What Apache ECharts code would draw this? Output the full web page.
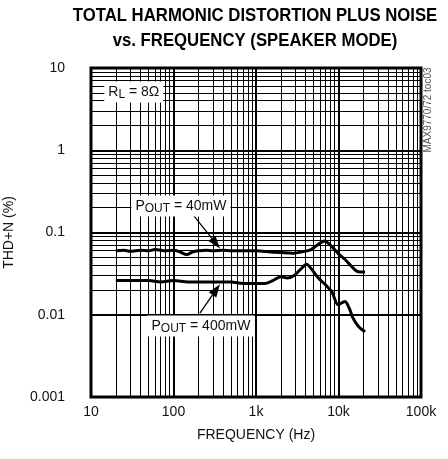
<!DOCTYPE html>
<html><head><meta charset="utf-8">
<script src="https://cdn.jsdelivr.net/npm/echarts/dist/echarts.min.js"></script>
<style>html,body{margin:0;padding:0;background:#fff}#c{width:448px;height:459px}</style>
</head><body><div id="c"></div>
<script>
// ---- data ----
const freq40 = [20, 25, 30, 40, 50, 60, 80, 100, 120, 145, 170, 200, 250, 300, 400, 500, 700, 1000, 1500, 2000, 2800, 3500, 4500, 5500, 6800, 8000, 10000, 12000, 14000, 16500, 18500, 21000];
const thd40  = [0.060, 0.061, 0.059, 0.061, 0.060, 0.062, 0.060, 0.061, 0.058, 0.054, 0.058, 0.060, 0.061, 0.060, 0.061, 0.060, 0.060, 0.060, 0.058, 0.057, 0.056, 0.058, 0.061, 0.070, 0.079, 0.070, 0.055, 0.047, 0.040, 0.034, 0.033, 0.033];
const freq400 = [20, 30, 50, 70, 100, 150, 200, 300, 500, 700, 1000, 1300, 1600, 2000, 2400, 2900, 3500, 4100, 4600, 5700, 7000, 8300, 9900, 11000, 12000, 13500, 15000, 17500, 21000];
const thd400  = [0.026, 0.026, 0.026, 0.025, 0.026, 0.025, 0.025, 0.025, 0.025, 0.024, 0.024, 0.024, 0.026, 0.029, 0.028, 0.030, 0.036, 0.041, 0.037, 0.028, 0.023, 0.019, 0.0132, 0.0140, 0.0145, 0.012, 0.0091, 0.0072, 0.0062];
const xTicks = [10, 100, 1000, 10000, 100000];
const xTickLabels = ['10', '100', '1k', '10k', '100k'];
const yTicks = [0.001, 0.01, 0.1, 1, 10];
const yTickLabels = ['0.001', '0.01', '0.1', '1', '10'];
const seriesNames = ['POUT = 40mW', 'POUT = 400mW'];

// ---- chart ----
const FONT = '"Liberation Sans", Arial, sans-serif';
const chart = echarts.init(document.getElementById('c'), null, {renderer: 'canvas'});

function minors(ticks) {
  const out = [];
  for (let i = 0; i < ticks.length - 1; i++) {
    for (let m = 2; m <= 9; m++) out.push(+(ticks[i] * m).toPrecision(6));
  }
  return out;
}
function labelFor(ticks, labels) {
  return function (v) {
    for (let i = 0; i < ticks.length; i++) {
      if (Math.abs(Math.log10(v) - Math.log10(ticks[i])) < 1e-6) return labels[i];
    }
    return '';
  };
}
const gridMarks = minors(xTicks).map(v => ({xAxis: v})).concat(minors(yTicks).map(v => ({yAxis: v})));

chart.setOption({
  animation: false,
  backgroundColor: '#fff',
  grid: {left: 91, right: 27, top: 68, bottom: 62, show: true, borderColor: '#000', borderWidth: 3,
    containLabel: false, outerBoundsMode: 'none'},
  xAxis: {
    type: 'log', logBase: 10, min: 10, max: 100000,
    name: 'FREQUENCY (Hz)', nameLocation: 'middle', nameGap: 31,
    nameTextStyle: {fontFamily: FONT, fontSize: 14, color: '#111'},
    axisLine: {show: false}, axisTick: {show: false},
    axisLabel: {margin: 8, fontFamily: FONT, fontSize: 14, color: '#111', formatter: labelFor(xTicks, xTickLabels)},
    splitLine: {show: true, lineStyle: {color: '#000', width: 2}}
  },
  yAxis: {
    type: 'log', logBase: 10, min: 0.001, max: 10,
    name: 'THD+N (%)', nameLocation: 'middle', nameGap: 75,
    nameTextStyle: {fontFamily: FONT, fontSize: 14, color: '#111'},
    axisLine: {show: false}, axisTick: {show: false},
    axisLabel: {margin: 26, fontFamily: FONT, fontSize: 14, color: '#111', formatter: labelFor(yTicks, yTickLabels)},
    splitLine: {show: true, lineStyle: {color: '#000', width: 2}}
  },
  series: [
    {
      name: seriesNames[0], type: 'line', showSymbol: false, smooth: 0.3,
      data: freq40.map((f, i) => [f, thd40[i]]),
      lineStyle: {color: '#000', width: 3}, z: 5,
      markLine: {silent: true, symbol: ['none', 'none'], label: {show: false},
        lineStyle: {color: '#000', width: 1, type: 'solid'}, data: gridMarks, z: 1}
    },
    {
      name: seriesNames[1], type: 'line', showSymbol: false, smooth: 0.3,
      data: freq400.map((f, i) => [f, thd400[i]]),
      lineStyle: {color: '#000', width: 3}, z: 5
    }
  ]
});

// ---- annotations anchored in data space ----
const px = p => chart.convertToPixel({gridIndex: 0}, p);
function arrow(from, to) {
  const a = px(from), b = px(to);
  const dx = b[0] - a[0], dy = b[1] - a[1], L = Math.hypot(dx, dy);
  const ux = dx / L, uy = dy / L, hl = 13, hw = 4.5;
  const bx = b[0] - ux * hl, by = b[1] - uy * hl;
  return [
    {type: 'line', shape: {x1: a[0], y1: a[1], x2: bx, y2: by}, style: {stroke: '#000', lineWidth: 1.3}, z: 20},
    {type: 'polygon', shape: {points: [[b[0], b[1]], [bx - uy * hw, by + ux * hw], [bx + uy * hw, by - ux * hw]]}, style: {fill: '#000'}, z: 20}
  ];
}
function label(at, text, rich) {
  const p = px(at);
  return {type: 'text', x: p[0], y: p[1], z: 21,
    style: {text: text, rich: rich, align: 'center', verticalAlign: 'middle', backgroundColor: '#fff', padding: [2, 4, 2, 4],
      fontFamily: FONT, fontSize: 14, fill: '#111'}};
}
const richP = {
  n: {fontFamily: FONT, fontSize: 14, fill: '#111'},
  s: {fontFamily: FONT, fontSize: 12, fill: '#111', padding: [5, 0, 0, 0]}
};
const g = [];
g.push({type: 'text', x: 255, y: 4, scaleX: 0.93, z: 21,
  style: {text: 'TOTAL HARMONIC DISTORTION PLUS NOISE\nvs. FREQUENCY (SPEAKER MODE)', align: 'center', verticalAlign: 'top',
    lineHeight: 25, fontFamily: FONT, fontWeight: 'bold', fontSize: 18, fill: '#000'}});
g.push(label([33, 5.1], '{n|R}{s|L}{n| = 8Ω}', richP));
g.push(label([123, 0.21], '{n|P}{s|OUT}{n| = 40mW}', richP));
g.push(label([215, 0.0073], '{n|P}{s|OUT}{n| = 400mW}', richP));
g.push(...arrow([172, 0.165], [366, 0.064]));
g.push(...arrow([209, 0.0105], [366, 0.0235]));
g.push({type: 'text', x: 428, y: 110, rotation: Math.PI / 2, z: 21,
  style: {text: 'MAX9770/72 toc03', align: 'center', verticalAlign: 'middle', fontFamily: FONT, fontSize: 10, fill: '#555'}});
chart.setOption({graphic: g});
</script>
</body></html>
